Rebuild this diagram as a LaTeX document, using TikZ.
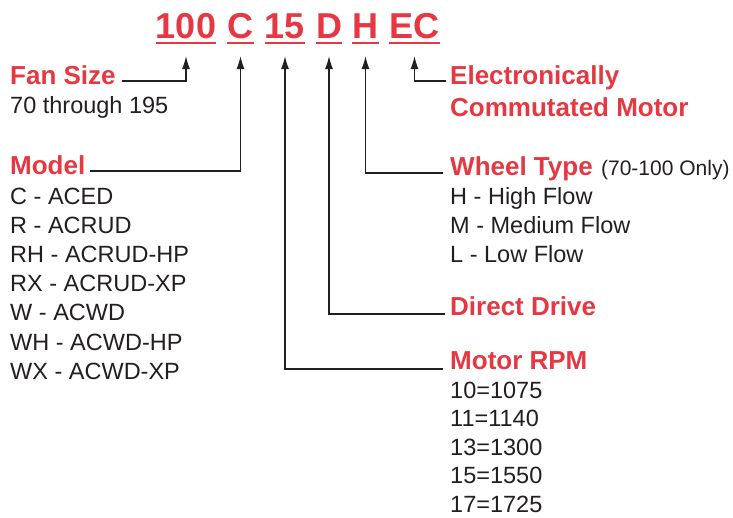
\documentclass[tikz,border=0pt]{standalone}
\usepackage{fontspec}
\setmainfont{Liberation Sans}
\usepackage{tikz}
\usetikzlibrary{arrows.meta}
\definecolor{codered}{RGB}{229, 56, 66}
\definecolor{textgray}{RGB}{35, 31, 32}
\tikzset{
  codetxt/.style={anchor=base, inner sep=0pt, text=codered, font=\fontsize{36}{40}\selectfont\bfseries},
  headtxt/.style={anchor=base west, inner sep=0pt, text=codered, font=\fontsize{26}{30}\selectfont\bfseries},
  bodytxt/.style={anchor=base west, inner sep=0pt, text=textgray, font=\fontsize{23.5}{28}\selectfont},
  arr/.style={draw=textgray, line width=1.3pt, -{Latex[length=13pt,width=8pt]}},
  uline/.style={draw=codered, line width=2.8pt}
}
\begin{document}
\begin{tikzpicture}[x=1pt, y=-1pt]
\useasboundingbox (0, 0) rectangle (733, 517);

% model code
\node[codetxt] (c100) at (186, 38) {100};
\node[codetxt] (cC)   at (240.5, 38) {C};
\node[codetxt] (c15)  at (285, 38) {15};
\node[codetxt] (cD)   at (329, 38) {D};
\node[codetxt] (cH)   at (365.5, 38) {H};
\node[codetxt] (cEC)  at (414.5, 38) {EC};

\draw[uline] ([yshift=-5pt]c100.base west) -- ([yshift=-5pt]c100.base east);
\draw[uline] ([yshift=-5pt]cC.base west) -- ([yshift=-5pt]cC.base east);
\draw[uline] ([yshift=-5pt]c15.base west) -- ([yshift=-5pt]c15.base east);
\draw[uline] ([yshift=-5pt]cD.base west) -- ([yshift=-5pt]cD.base east);
\draw[uline] ([yshift=-5pt]cH.base west) -- ([yshift=-5pt]cH.base east);
\draw[uline] ([yshift=-5pt]cEC.base west) -- ([yshift=-5pt]cEC.base east);

% left column
\node[headtxt] (fansize) at (10, 84) {Fan Size};
\node[bodytxt] (fanrange) at (10, 113) {70 through 195};

\node[headtxt] (model) at (10, 174) {Model};
\node[bodytxt] (modC)  at (10, 204) {C - ACED};
\node[bodytxt] (modR)  at (10, 233) {R - ACRUD};
\node[bodytxt] (modRH) at (10, 262) {RH - ACRUD-HP};
\node[bodytxt] (modRX) at (10, 291) {RX - ACRUD-XP};
\node[bodytxt] (modW)  at (10, 320) {W - ACWD};
\node[bodytxt] (modWH) at (10, 350) {WH - ACWD-HP};
\node[bodytxt] (modWX) at (10, 379) {WX - ACWD-XP};

% right column
\node[headtxt] (ecm)  at (450, 84) {Electronically};
\node[headtxt] (ecm2) at (450, 116) {Commutated Motor};

\node[headtxt] (wheel) at (450, 175) {Wheel Type};
\node[bodytxt, font=\fontsize{21}{24}\selectfont] (wheelnote) at ([xshift=8pt]wheel.base east) {(70-100 Only)};
\node[bodytxt] (whH) at (450, 204) {H - High Flow};
\node[bodytxt] (whM) at (450, 233) {M - Medium Flow};
\node[bodytxt] (whL) at (450, 262) {L - Low Flow};

\node[headtxt] (drive) at (450, 315) {Direct Drive};

\node[headtxt] (rpm) at (450, 369) {Motor RPM};
\node[bodytxt] (rpm10) at (450, 398) {10=1075};
\node[bodytxt] (rpm11) at (450, 426.5) {11=1140};
\node[bodytxt] (rpm13) at (450, 455) {13=1300};
\node[bodytxt] (rpm15) at (450, 483.5) {15=1550};
\node[bodytxt] (rpm17) at (450, 512) {17=1725};

% leaders
\draw[arr] ([xshift=6pt, yshift=3pt]fansize.base east) -| ([yshift=-18pt]c100.base);
\draw[arr] ([xshift=4pt, yshift=3pt]model.base east) -| ([yshift=-18pt]cC.base);
\draw[arr] ([xshift=-7pt, yshift=0pt]rpm.base west) -| ([yshift=-18pt]c15.base);
\draw[arr] ([xshift=-5pt, yshift=1pt]drive.base west) -| ([yshift=-18pt]cD.base);
\draw[arr] ([xshift=-7pt, yshift=2pt]wheel.base west) -| ([yshift=-18pt]cH.base);
\draw[arr] ([xshift=-4pt, yshift=3pt]ecm.base west) -| ([yshift=-18pt]cEC.base);

\end{tikzpicture}
\end{document}
